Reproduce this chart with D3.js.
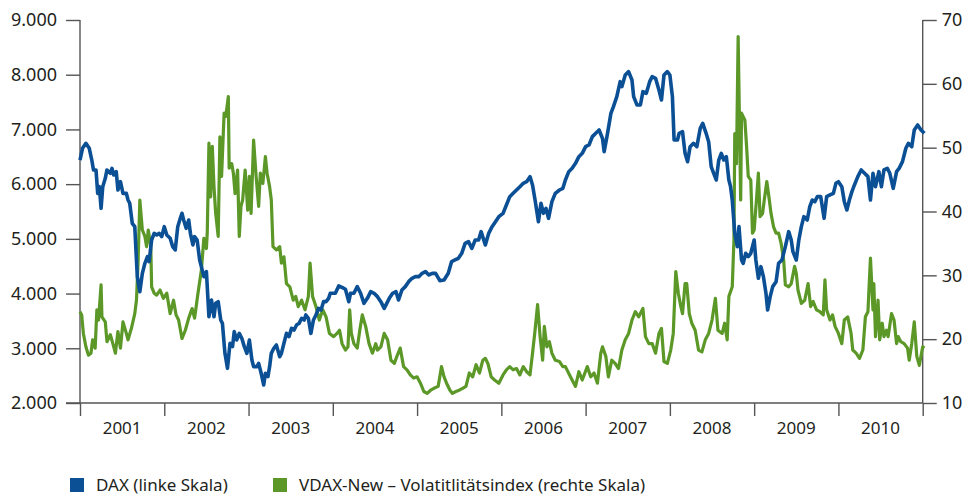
<!DOCTYPE html>
<html>
<head>
<meta charset="utf-8">
<script src="https://cdn.jsdelivr.net/npm/d3@7/dist/d3.min.js"></script>
<style>
  body { margin: 0; background: #fff; }
  svg { display: block; font-family: "Noto Sans", sans-serif; }
</style>
</head>
<body>
<div class="chart"></div>
<script>
// DAX (linke Skala) - Zeitpunkt in Jahren, Wert in Punkten
const daxT = [
  2001.00,2001.03,2001.07,2001.11,2001.14,2001.16,2001.19,2001.21,2001.23,2001.25,2001.27,2001.30,2001.32,2001.36,2001.38,2001.40,
  2001.43,2001.45,2001.48,2001.51,2001.55,2001.57,2001.59,2001.62,2001.65,2001.68,2001.71,2001.74,2001.77,2001.80,2001.82,2001.85,
  2001.88,2001.91,2001.94,2001.97,2002.00,2002.03,2002.07,2002.10,2002.13,2002.16,2002.19,2002.21,2002.23,2002.26,2002.29,2002.31,
  2002.34,2002.36,2002.39,2002.42,2002.44,2002.47,2002.50,2002.53,2002.56,2002.59,2002.61,2002.64,2002.67,2002.69,2002.72,2002.75,
  2002.78,2002.81,2002.83,2002.86,2002.89,2002.92,2002.95,2002.98,2003.01,2003.04,2003.06,2003.10,2003.12,2003.15,2003.18,2003.20,
  2003.23,2003.25,2003.27,2003.30,2003.33,2003.37,2003.39,2003.42,2003.45,2003.48,2003.51,2003.54,2003.57,2003.60,2003.63,2003.66,
  2003.68,2003.71,2003.74,2003.77,2003.80,2003.83,2003.86,2003.89,2003.92,2003.95,2003.97,
  2004.03,2004.07,2004.11,2004.15,2004.19,2004.21,2004.25,2004.29,2004.33,2004.37,2004.41,2004.45,2004.49,2004.53,2004.57,2004.61,
  2004.67,2004.71,2004.75,2004.78,2004.82,2004.86,2004.90,2004.94,2004.98,2005.02,2005.06,2005.10,2005.14,2005.18,2005.22,2005.27,
  2005.32,2005.37,2005.41,2005.45,2005.49,2005.53,2005.57,2005.61,2005.65,2005.69,2005.73,2005.76,2005.81,2005.85,2005.89,2005.93,
  2005.97,2006.02,2006.06,2006.10,2006.14,2006.18,2006.22,2006.26,2006.30,2006.34,2006.37,2006.40,2006.44,2006.47,2006.50,2006.53,
  2006.56,2006.60,2006.64,2006.69,2006.73,2006.76,2006.80,2006.84,2006.88,2006.92,2006.96,2007.00,2007.04,2007.08,2007.12,2007.16,
  2007.20,2007.22,2007.26,2007.30,2007.33,2007.37,2007.41,2007.43,2007.47,2007.51,2007.55,2007.57,2007.61,2007.65,2007.68,2007.72,
  2007.76,2007.79,2007.83,2007.87,2007.90,2007.93,2007.97,2008.00,2008.03,2008.05,2008.09,2008.11,2008.15,2008.18,2008.21,2008.24,
  2008.28,2008.32,2008.36,2008.39,2008.43,2008.46,2008.49,2008.52,2008.55,2008.58,2008.61,2008.64,2008.67,2008.70,2008.72,2008.74,
  2008.77,2008.80,2008.82,2008.85,2008.87,2008.90,2008.93,2008.96,2009.00,2009.02,2009.05,2009.08,2009.11,2009.14,2009.16,2009.19,
  2009.22,2009.26,2009.29,2009.33,2009.37,2009.41,2009.44,2009.46,2009.50,2009.53,2009.56,2009.59,2009.63,2009.66,2009.69,2009.72,
  2009.75,2009.79,2009.83,2009.86,2009.90,2009.94,2009.97,2010.00,2010.04,2010.07,2010.10,2010.13,2010.16,2010.19,2010.23,2010.27,
  2010.31,2010.35,2010.38,2010.41,2010.44,2010.48,2010.51,2010.54,2010.58,2010.61,2010.65,2010.69,2010.72,2010.76,2010.80,2010.83,
  2010.87,2010.90,2010.94,2010.98,2011.02
];
const daxV = [
  6441,6655,6746,6655,6441,6259,6259,5832,5954,5558,5954,6106,6259,6198,6289,6167,
  6228,5893,6045,5832,5832,5710,5650,5284,5223,4309,4035,4370,4553,4675,4584,4979,
  5101,5071,5101,5040,5223,5071,5010,4858,4797,5223,5375,5467,5345,5193,5345,5101,
  4888,5040,4979,4614,4492,4309,4401,3578,3883,3578,3822,3852,3517,3456,2908,2634,
  3091,3030,3304,3152,3273,3182,3030,2908,3152,2786,2664,2664,2725,2543,2329,2543,
  2482,2664,2908,3000,3060,2847,2908,3091,3273,3213,3365,3334,3426,3456,3548,3517,
  3609,3548,3273,3517,3609,3730,3700,3852,3852,3913,4005,
  4005,4139,4114,4078,3852,4005,4005,4127,4005,3822,3913,4035,4005,3944,3852,3730,
  3913,4005,4035,3883,4066,4127,4218,4279,4309,4309,4370,4401,4340,4370,4370,4236,
  4248,4370,4584,4614,4644,4736,4918,4949,4827,4979,4979,5132,4888,5101,5223,5314,
  5406,5467,5619,5771,5832,5893,5954,6015,6045,6137,5985,5710,5314,5650,5467,5558,
  5375,5680,5832,5893,5924,6076,6228,6289,6380,6502,6563,6685,6716,6868,6929,6990,
  6837,6594,6929,7294,7416,7599,7873,7782,7995,8056,7903,7599,7447,7447,7690,7660,
  7873,7964,7934,7721,7538,7995,8056,7995,7599,6807,6807,6929,6959,6563,6411,6685,
  6746,6685,7020,7111,6929,6776,6320,6198,6076,6441,6563,6441,6502,6076,5954,5710,
  5101,4858,5223,4614,4553,4736,4675,4736,4979,4614,4279,4492,4309,4005,3700,3944,
  4127,4218,4553,4614,4858,5132,4979,4766,4614,4979,5223,5406,5345,5589,5710,5680,
  5771,5771,5375,5771,5802,5832,6015,6045,5954,5680,5528,5710,5863,5985,6137,6259,
  6198,6137,5710,6198,5954,6228,5954,6259,6289,6198,5924,6228,6289,6411,6655,6746,
  6685,6990,7081,6990,6929
];

// VDAX-New (rechte Skala)
const vdaxT = [
  2001.00,2001.02,2001.04,2001.07,2001.10,2001.13,2001.15,2001.18,2001.20,2001.22,2001.25,2001.26,2001.30,2001.32,2001.36,2001.39,
  2001.42,2001.45,2001.48,2001.51,2001.55,2001.57,2001.61,2001.65,2001.67,2001.69,2001.71,2001.74,2001.77,2001.79,2001.81,2001.84,
  2001.85,2001.88,2001.91,2001.95,2001.99,2002.03,2002.07,2002.11,2002.14,2002.17,2002.21,2002.25,2002.29,2002.33,2002.36,2002.40,
  2002.44,2002.47,2002.50,2002.51,2002.53,2002.55,2002.57,2002.59,2002.61,2002.64,2002.66,2002.68,2002.71,2002.73,2002.76,2002.77,
  2002.80,2002.82,2002.84,2002.87,2002.89,2002.91,2002.93,2002.96,2002.99,2003.01,2003.03,2003.06,2003.09,2003.12,2003.14,2003.17,
  2003.20,2003.22,2003.25,2003.27,2003.29,2003.33,2003.37,2003.39,2003.42,2003.45,2003.49,2003.53,2003.56,2003.59,2003.63,2003.67,
  2003.71,2003.73,2003.76,2003.80,2003.84,2003.88,2003.92,2003.96,
  2004.01,2004.05,2004.08,2004.11,2004.15,2004.18,2004.20,2004.22,2004.25,2004.29,2004.32,2004.35,2004.39,2004.43,2004.47,2004.51,
  2004.53,2004.57,2004.61,2004.65,2004.69,2004.73,2004.76,2004.80,2004.84,2004.88,2004.92,2004.96,2005.00,2005.04,2005.08,2005.12,
  2005.16,2005.20,2005.25,2005.29,2005.32,2005.35,2005.39,2005.42,2005.46,2005.50,2005.54,2005.58,2005.62,2005.66,2005.70,2005.74,
  2005.78,2005.81,2005.84,2005.88,2005.92,2005.97,2006.02,2006.06,2006.10,2006.14,2006.18,2006.22,2006.26,2006.30,2006.34,2006.37,
  2006.40,2006.43,2006.46,2006.49,2006.51,2006.54,2006.57,2006.60,2006.64,2006.69,2006.73,2006.76,2006.82,2006.86,2006.88,2006.92,
  2006.96,2007.02,2007.06,2007.10,2007.14,2007.18,2007.20,2007.24,2007.27,2007.31,2007.35,2007.39,2007.43,2007.47,2007.51,2007.55,
  2007.59,2007.63,2007.68,2007.71,2007.75,2007.79,2007.83,2007.87,2007.90,2007.93,2007.97,2008.01,2008.04,2008.07,2008.10,2008.13,
  2008.15,2008.18,2008.20,2008.23,2008.26,2008.30,2008.34,2008.38,2008.42,2008.46,2008.50,2008.54,2008.57,2008.62,2008.65,2008.68,
  2008.70,2008.74,2008.76,2008.77,2008.79,2008.81,2008.84,2008.85,2008.89,2008.91,2008.93,2008.96,2008.98,2009.00,2009.03,2009.05,
  2009.07,2009.10,2009.12,2009.15,2009.18,2009.20,2009.23,2009.26,2009.29,2009.32,2009.35,2009.37,2009.41,2009.44,2009.48,2009.50,
  2009.52,2009.56,2009.60,2009.64,2009.67,2009.70,2009.74,2009.78,2009.82,2009.84,2009.86,2009.90,2009.93,2009.96,2010.00,2010.04,
  2010.07,2010.11,2010.15,2010.17,2010.21,2010.25,2010.29,2010.32,2010.35,2010.38,2010.41,2010.42,2010.44,2010.47,2010.49,2010.52,
  2010.54,2010.57,2010.59,2010.63,2010.66,2010.69,2010.71,2010.74,2010.78,2010.82,2010.84,2010.87,2010.90,2010.93,2010.96,2011.00,
  2011.02
];
const vdaxV = [
  24.3,23.8,20.9,18.8,17.5,17.8,19.9,18.6,24.6,23.0,28.5,23.5,22.7,19.6,20.7,19.3,
  17.8,21.2,18.6,22.7,20.9,19.9,21.7,24.0,26.1,32.4,41.8,37.1,36.1,34.5,37.1,34.5,
  28.2,27.2,26.9,27.7,26.4,27.2,24.0,26.1,23.8,23.0,20.1,21.4,23.3,24.8,23.3,27.2,
  30.8,35.8,34.2,36.6,50.7,42.3,50.2,43.9,39.7,36.1,51.7,45.5,55.4,54.9,58.0,46.8,
  47.5,46.0,42.8,46.5,36.1,40.8,41.8,46.5,40.2,45.5,39.7,51.2,45.5,40.8,46.0,44.4,
  48.6,46.0,43.9,41.8,34.5,34.0,34.5,31.9,32.9,28.7,28.2,26.1,26.7,25.1,26.1,24.6,
  26.7,31.9,26.7,25.1,23.0,24.6,23.5,20.9,
  20.4,20.9,21.4,19.3,18.3,18.8,24.6,20.9,19.3,18.6,21.4,23.8,22.0,19.3,17.8,19.3,
  18.3,18.8,20.9,19.9,16.7,16.2,17.3,18.6,15.7,15.2,14.4,13.9,14.1,13.1,11.8,11.5,
  12.0,12.3,12.6,15.7,14.1,13.1,12.0,11.5,11.8,12.0,12.3,12.6,14.7,14.1,16.0,14.7,
  16.7,17.0,16.2,14.1,13.6,13.1,14.4,15.2,15.7,15.2,15.4,14.4,15.7,14.9,14.4,17.8,
  21.4,25.4,20.4,16.7,22.0,18.8,19.6,17.8,16.7,16.5,15.7,15.7,14.1,13.1,12.6,14.9,
  13.6,15.7,14.1,14.7,13.1,17.8,18.8,17.3,14.1,16.7,16.2,15.4,18.3,19.9,20.9,23.0,
  24.3,23.5,24.8,20.4,19.3,19.3,17.8,20.9,21.7,16.5,16.2,18.3,20.9,30.6,27.2,25.1,
  24.0,28.7,28.7,24.0,22.5,21.4,18.3,18.0,19.9,20.9,23.0,26.4,21.4,20.9,22.5,19.9,
  26.7,28.2,35.5,52.2,47.5,67.4,41.8,55.4,54.3,50.2,45.5,44.9,36.6,37.1,42.3,46.0,
  39.2,39.7,41.8,44.7,41.8,39.7,37.6,36.6,36.6,35.0,32.4,28.5,28.2,28.7,31.4,30.3,
  27.7,25.6,26.1,28.7,25.1,25.9,24.6,24.3,23.8,29.3,24.6,23.0,23.8,22.0,20.9,19.3,
  23.0,23.5,20.9,18.3,17.8,17.0,18.3,23.5,24.3,32.7,24.6,28.7,20.4,26.1,19.9,22.5,
  20.4,21.4,20.4,24.0,23.0,19.3,20.4,19.6,19.3,18.6,16.7,19.3,22.7,17.3,15.9,18.8,
  18.6
];

const years = [2001, 2002, 2003, 2004, 2005, 2006, 2007, 2008, 2009, 2010];
const leftTicks = [2000, 3000, 4000, 5000, 6000, 7000, 8000, 9000];
const rightTicks = [10, 20, 30, 40, 50, 60, 70];
const legendItems = [
  {label: 'DAX (linke Skala)', color: '#0b4f95'},
  {label: 'VDAX-New \u2013 Volatitlitätsindex (rechte Skala)', color: '#5b9828'}
];

const W = 966, H = 497;
const M = {left: 80, right: 43.3, top: 20, bottom: 94};
const axisColor = '#555';
const textColor = '#231f20';

const x = d3.scaleLinear().domain([2001, 2011]).range([M.left, W - M.right]);
const yL = d3.scaleLinear().domain([2000, 9000]).range([H - M.bottom, M.top]);
const yR = d3.scaleLinear().domain([10, 70]).range([H - M.bottom, M.top]);

const svg = d3.select('.chart').append('svg').attr('width', W).attr('height', H);

// linke Achse
const gL = svg.append('g').attr('transform', `translate(${M.left},0)`)
  .call(d3.axisLeft(yL).tickValues(leftTicks).tickSize(14).tickPadding(9)
    .tickFormat(d => d3.format(',')(d).replace(',', '.')));
// rechte Achse
const gR = svg.append('g').attr('transform', `translate(${W - M.right},0)`)
  .call(d3.axisRight(yR).tickValues(rightTicks).tickSize(14).tickPadding(5));
// untere Achse
const gB = svg.append('g').attr('transform', `translate(0,${H - M.bottom})`)
  .call(d3.axisBottom(x).tickValues(d3.range(2001, 2012)).tickSize(13).tickFormat(''));

[gL, gR, gB].forEach(g => {
  g.select('.domain').attr('stroke', axisColor).attr('stroke-width', 1.4);
  g.selectAll('.tick line').attr('stroke', axisColor).attr('stroke-width', 1.4);
  g.selectAll('.tick text').attr('fill', textColor).style('font-size', '18px')
    .style('font-family', '"Noto Sans", sans-serif');
});
gL.select('.domain').attr('d', `M0,${M.top}V${H - M.bottom}`);
gR.select('.domain').attr('d', `M0,${M.top}V${H - M.bottom}`);
gB.select('.domain').attr('d', `M${M.left - 14},0H${W - M.right}`);

// Jahreszahlen zwischen den Strichen
svg.append('g').selectAll('text').data(years).join('text')
  .attr('x', d => x(d + 0.5))
  .attr('y', H - M.bottom + 31)
  .attr('text-anchor', 'middle')
  .attr('fill', textColor)
  .style('font-size', '17px')
  .text(d => d);

// Linien
const dax = daxT.map((t, i) => ({t, v: daxV[i]}));
const vdax = vdaxT.map((t, i) => ({t, v: vdaxV[i]}));

svg.append('path').datum(vdax)
  .attr('fill', 'none').attr('stroke', legendItems[1].color).attr('stroke-width', 3.2)
  .attr('stroke-linejoin', 'round')
  .attr('d', d3.line().x(d => x(d.t)).y(d => yR(d.v)));

svg.append('path').datum(dax)
  .attr('fill', 'none').attr('stroke', legendItems[0].color).attr('stroke-width', 3.6)
  .attr('stroke-linejoin', 'round')
  .attr('d', d3.line().x(d => x(d.t)).y(d => yL(d.v)));

// Legende
const leg = svg.append('g').selectAll('g').data(legendItems).join('g')
  .attr('transform', (d, i) => `translate(${i ? 273 : 70},478)`);
leg.append('rect').attr('width', 14).attr('height', 14).attr('fill', d => d.color);
leg.append('text').attr('x', 26).attr('y', 13)
  .attr('fill', textColor).style('font-size', '17px')
  .text(d => d.label);
</script>
</body>
</html>
